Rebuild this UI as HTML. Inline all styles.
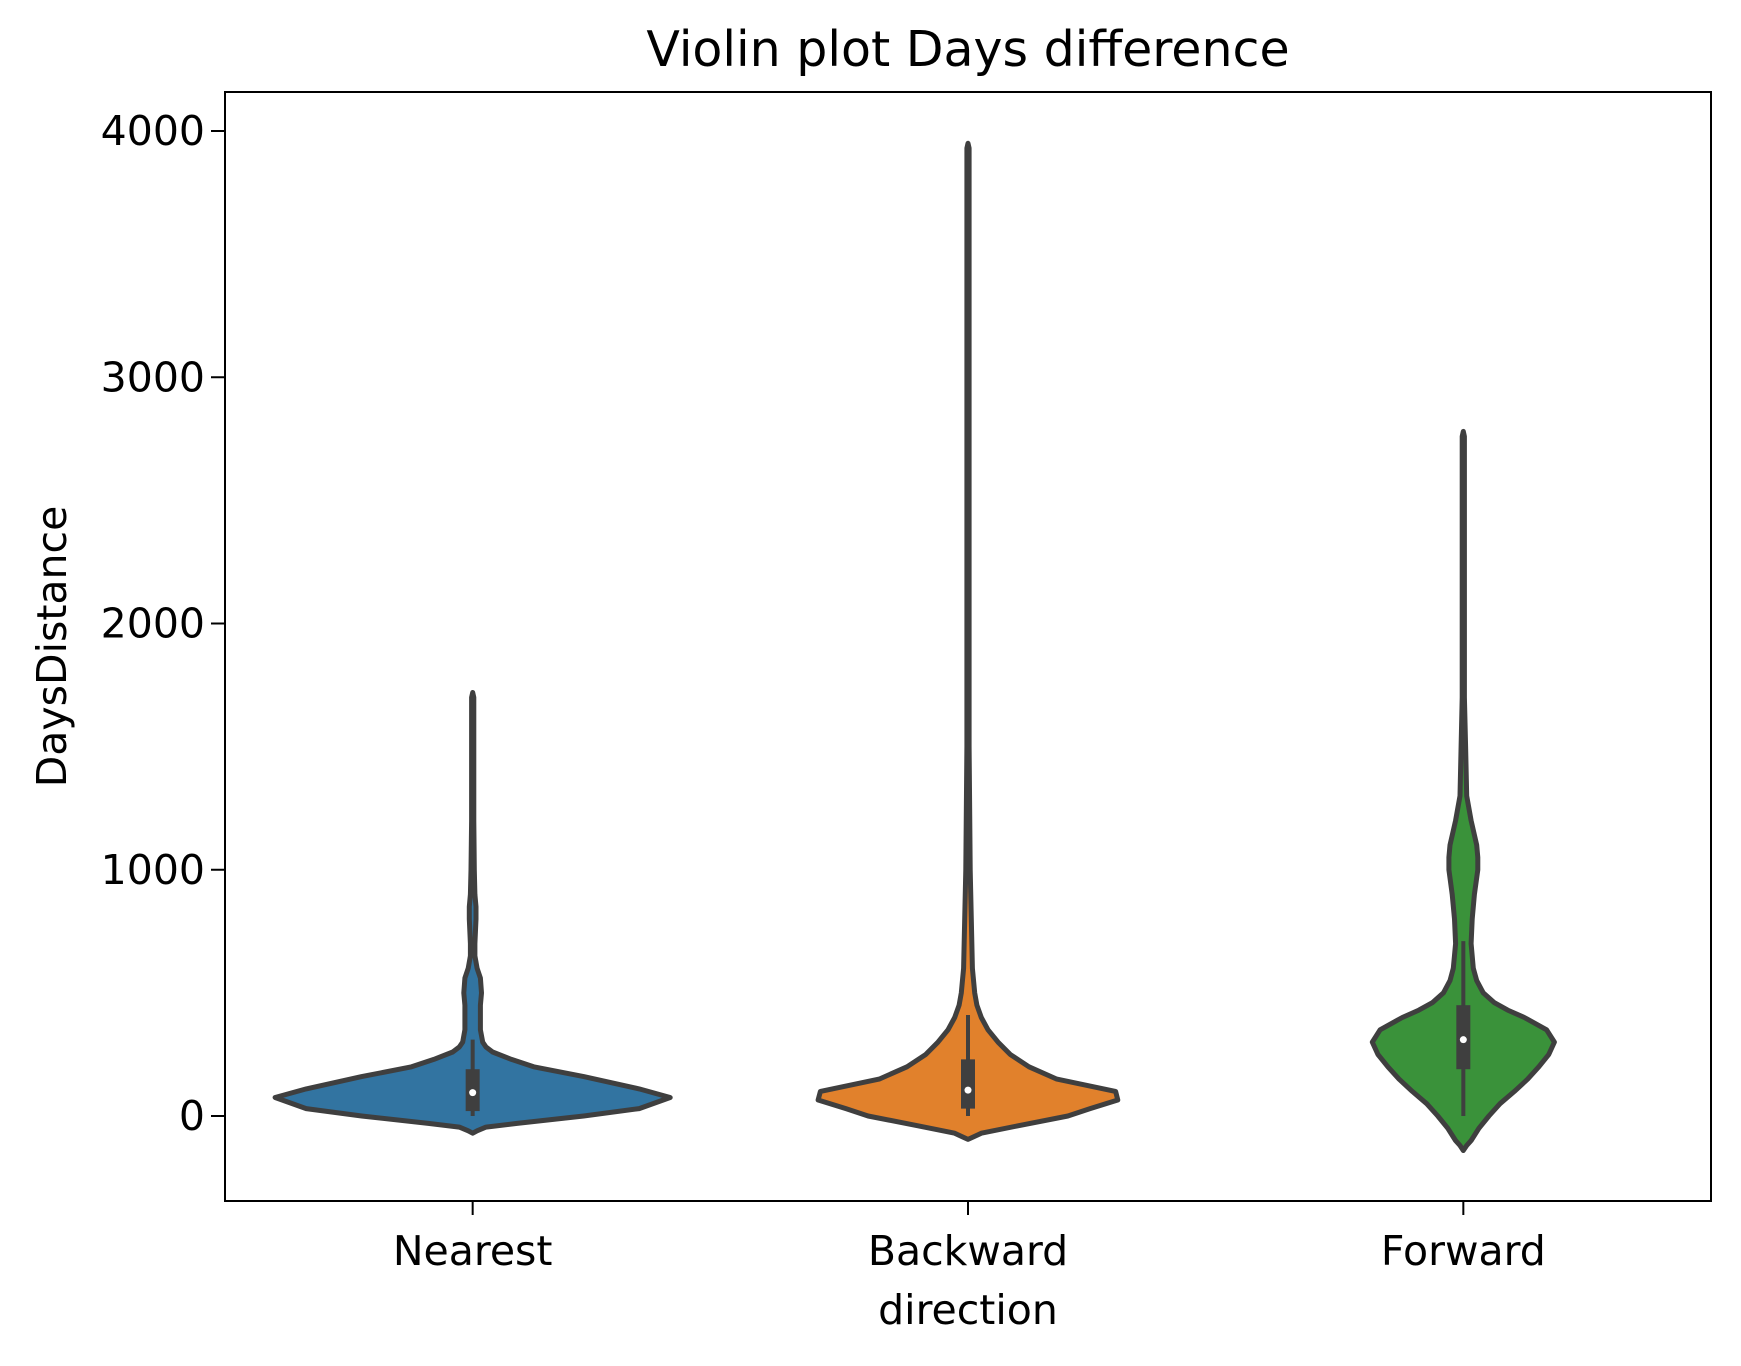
<!DOCTYPE html>
<html><head><meta charset="utf-8"><style>
body{margin:0;background:#fff}
svg text{font-family:"DejaVu Sans","Liberation Sans",sans-serif;fill:#000}
</style></head><body>
<svg id="chart" width="1741" height="1361" viewBox="0 0 1741 1361" xmlns="http://www.w3.org/2000/svg">
<rect width="1741" height="1361" fill="#fff"/>
<g id="plot"></g>
</svg>
<script>
const categories=["Nearest","Backward","Forward"];
const colors=["#3274a1","#e1812c","#3a923a"];
const yTicks=[0,1000,2000,3000,4000];
const nearestValues=[-70,-60,-45,-30,0,30,75,110,160,200,230,260,280,300,350,450,500,560,600,650,700,800,850,900,1000,1200,1700,1720];
const nearestDensity=[0,4,12,40,100,150,178,150,100,55,35,18,12,9,7,7,8,7,4,2,2,3,3,2,1.5,1,1,0];
const backwardValues=[-95,-85,-70,-40,0,30,65,100,150,200,250,300,350,400,450,500,600,800,1000,1500,3930,3950];
const backwardDensity=[0,5,12,45,90,110,135,133,80,55,38,27,18,12,8,6,4,3,2,1,1,0];
const forwardValues=[-140,-120,-100,-50,0,50,100,150,200,250,300,350,400,430,460,500,550,600,700,800,900,1000,1050,1100,1200,1300,1500,1700,2760,2780];
const forwardDensity=[0,3,7,14,23,33,46,58,68,77,82,75,55,40,28,18,12,9,7,8,10,13,13,12,7,3,2,1,1,0];
const boxQ1=[20,30,190];
const boxQ3=[190,230,450];
const medians=[95,105,310];
const whiskerLow=[0,0,0];
const whiskerHigh=[310,410,710];

const L=225,R=1711,T=92,B=1201;
const y=v=>1116-v*0.24625;
const x=i=>L+(R-L)/categories.length*(i+0.5);
const wScale=1.11;
const NS="http://www.w3.org/2000/svg";
const g=document.getElementById('plot');
function mk(t,a){const e=document.createElementNS(NS,t);for(const k in a)e.setAttribute(k,a[k]);g.appendChild(e);return e;}
const vals=[nearestValues,backwardValues,forwardValues];
const dens=[nearestDensity,backwardDensity,forwardDensity];
categories.forEach((c,i)=>{
  const cx=x(i);let right=[],left=[];
  vals[i].forEach((v,j)=>{right.push((cx+dens[i][j]*wScale).toFixed(1)+","+y(v).toFixed(1));left.unshift((cx-dens[i][j]*wScale).toFixed(1)+","+y(v).toFixed(1));});
  const p=mk('polygon',{points:right.concat(left).join(' '),fill:colors[i],stroke:'#3f3f3f','stroke-width':5,'stroke-linejoin':'round'});
  
  
  const w=mk('line',{x1:cx,x2:cx,y1:y(whiskerLow[i]),y2:y(whiskerHigh[i]),stroke:'#3f3f3f','stroke-width':4});
  
  
  const b=mk('rect',{x:cx-7,y:y(boxQ3[i]),width:14,height:y(boxQ1[i])-y(boxQ3[i]),fill:'#3f3f3f'});
  
  
  const m=mk('circle',{cx:cx,cy:y(medians[i]),r:3.5,fill:'#fff'});
  
  
  const tk=mk('line',{x1:cx,x2:cx,y1:B,y2:B+14,stroke:'#000','stroke-width':2});
  
  
  const tl=mk('text',{x:cx,y:1265,'font-size':41,'text-anchor':'middle'});
  tl.textContent=c;
  
  
});
yTicks.forEach(v=>{
  const tk=mk('line',{x1:L-14,x2:L,y1:y(v),y2:y(v),stroke:'#000','stroke-width':2});
  
  
  const tl=mk('text',{x:L-20,y:y(v)+14,'font-size':41,'text-anchor':'end'});
  tl.textContent=v;
  
  
});
const fr=mk('rect',{x:L,y:T,width:R-L,height:B-T,fill:'none',stroke:'#000','stroke-width':2});


const tt=mk('text',{x:(L+R)/2,y:66,'font-size':49,'text-anchor':'middle'});
tt.textContent='Violin plot Days difference';


const xl=mk('text',{x:(L+R)/2,y:1324,'font-size':41,'text-anchor':'middle'});
xl.textContent='direction';


const yl=mk('text',{x:0,y:0,'font-size':41,'text-anchor':'middle',transform:'translate(66,'+((T+B)/2)+') rotate(-90)'});
yl.textContent='DaysDistance';


</script>
</body></html>
